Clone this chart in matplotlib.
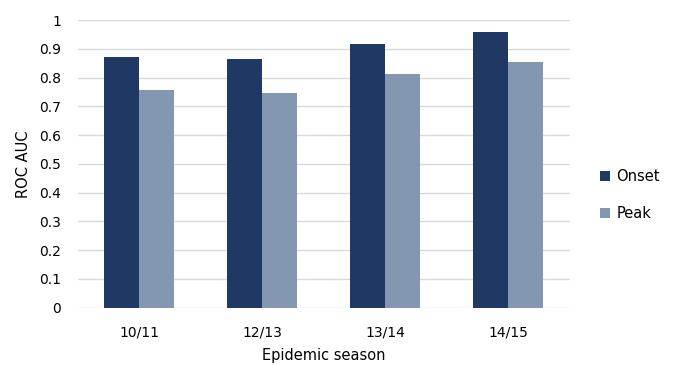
import numpy as np
import matplotlib.pyplot as plt

# Data
seasons = ["10/11", "12/13", "13/14", "14/15"]
onset = [0.872, 0.865, 0.917, 0.960]
peak = [0.757, 0.748, 0.812, 0.853]

onset_color = "#203864"
peak_color = "#8497B0"

plt.rcParams['font.family'] = ['DejaVu Sans']

fig = plt.figure(figsize=(6.76, 3.65), dpi=100)
ax = fig.add_axes([0.115, 0.1575, 0.728, 0.7875])

x = np.arange(len(seasons))
w = 0.285
ax.bar(x - w / 2, onset, width=w, color=onset_color, label="Onset", zorder=3)
ax.bar(x + w / 2, peak, width=w, color=peak_color, label="Peak", zorder=3)

ax.set_xlim(-0.5, len(seasons) - 0.5)
ax.set_ylim(0, 1)
ax.set_yticks(np.arange(0, 1.01, 0.1))
ax.set_yticklabels(["0", "0.1", "0.2", "0.3", "0.4", "0.5", "0.6", "0.7", "0.8", "0.9", "1"])
ax.set_xticks(x)
ax.set_xticklabels(seasons)
ax.tick_params(length=0, labelsize=10, colors="#000000")
ax.tick_params(axis="x", pad=13)
ax.tick_params(axis="y", pad=12)
ax.yaxis.grid(True, color="#d9d9d9", linewidth=1, zorder=0)
for s in ax.spines.values():
    s.set_visible(False)

ax.set_xlabel("Epidemic season", fontsize=10.5, labelpad=6)
ax.set_ylabel("ROC AUC", fontsize=10.5, labelpad=6)

ax.legend(loc="center left", bbox_to_anchor=(1.035, 0.39), frameon=False,
          fontsize=10.5, handlelength=0.7, handleheight=0.7, labelspacing=1.5,
          handletextpad=0.4)

fig.savefig("out.png", dpi=100)
